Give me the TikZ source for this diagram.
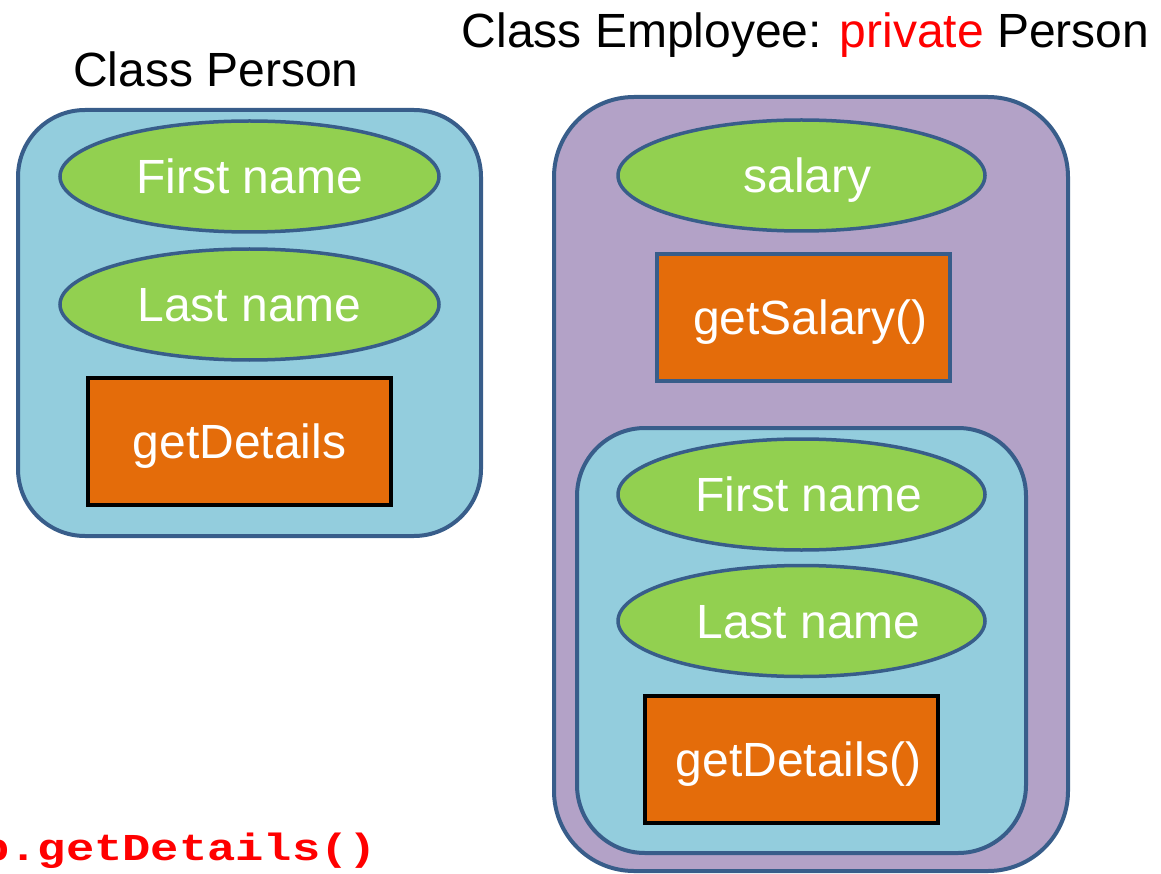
\documentclass[tikz,border=0pt]{standalone}
\usepackage{fontspec}
\setmainfont{Liberation Sans}
\newfontfamily\codefont{Liberation Mono}
\usetikzlibrary{shapes.geometric}

\definecolor{edgeblue}{HTML}{385D8A}
\definecolor{aquafill}{HTML}{93CDDD}
\definecolor{leafgreen}{HTML}{92D050}
\definecolor{methodorange}{HTML}{E46C0A}
\definecolor{lilac}{HTML}{B3A2C7}
\definecolor{keyred}{HTML}{FF0000}

\tikzset{
  bigtext/.style={font=\fontsize{48}{56}\selectfont},
  classbox/.style={draw=edgeblue, line width=4pt, rounded corners=#1, inner sep=0pt},
  fieldoval/.style={ellipse, draw=edgeblue, line width=3.5pt, fill=leafgreen,
    minimum width=#1, minimum height=111pt, inner sep=0pt},
  methodbox/.style={rectangle, draw=#1, line width=4pt, fill=methodorange,
    minimum height=127pt, inner sep=0pt},
  label text/.style={inner sep=0pt, text=white, bigtext, text height=34pt, text depth=0pt},
}

\begin{document}
\begin{tikzpicture}[x=1pt, y=-1pt]
  \useasboundingbox (0,0) rectangle (1161,874);

  % base class
  \node[bigtext, anchor=base] (ptitle) at (216,87) {Class Person};
  \node[classbox=67pt, fill=aquafill, minimum width=463pt, minimum height=426pt] (person) at (249.5,323) {};
  \node[fieldoval=379pt] (pfirst) at (249.5,176.5) {};
  \node[fieldoval=379pt] (plast) at (249.5,304.5) {};
  \node[methodbox=black, minimum width=303pt] (pdetails) at (239.5,441.5) {};
  \node[label text] (pfirst-t) at (pfirst.center) {First name};
  \node[label text] (plast-t) at (plast.center) {Last name};
  \node[label text] (pdetails-t) at (pdetails.center) {getDetails};

  % derived class
  \node[bigtext, anchor=base] (etitle) at (805.5,48)
    {Class Employee: \textcolor{keyred}{private} Person};
  \node[classbox=80pt, fill=lilac, minimum width=514pt, minimum height=774pt] (employee) at (811,484) {};
  \node[fieldoval=367pt] (salary) at (801.5,175.5) {};
  \node[methodbox=edgeblue, minimum width=293pt] (getsalary) at (803.5,317.5) {};
  \node[classbox=68pt, fill=aquafill, minimum width=449pt, minimum height=425pt] (inner) at (801.5,640.5) {};
  \node[fieldoval=367pt] (efirst) at (801.5,494.5) {};
  \node[fieldoval=367pt] (elast) at (801.5,621) {};
  \node[methodbox=black, minimum width=293pt] (edetails) at (791.5,759.5) {};
  \node[label text] (salary-t) at ([xshift=6pt]salary.center) {salary};
  \node[label text] (getsalary-t) at ([xshift=7pt]getsalary.center) {getSalary()};
  \node[label text] (efirst-t) at ([xshift=7pt]efirst.center) {First name};
  \node[label text] (elast-t) at ([xshift=7pt]elast.center) {Last name};
  \node[label text] (edetails-t) at ([xshift=7pt]edetails.center) {getDetails()};

  % call shown in code
  \node[anchor=base west, inner sep=0pt, text=keyred, xscale=1.24,
    font=\codefont\bfseries\fontsize{38}{44}\selectfont] (call) at (-19,860) {p.getDetails()};
\end{tikzpicture}
\end{document}
